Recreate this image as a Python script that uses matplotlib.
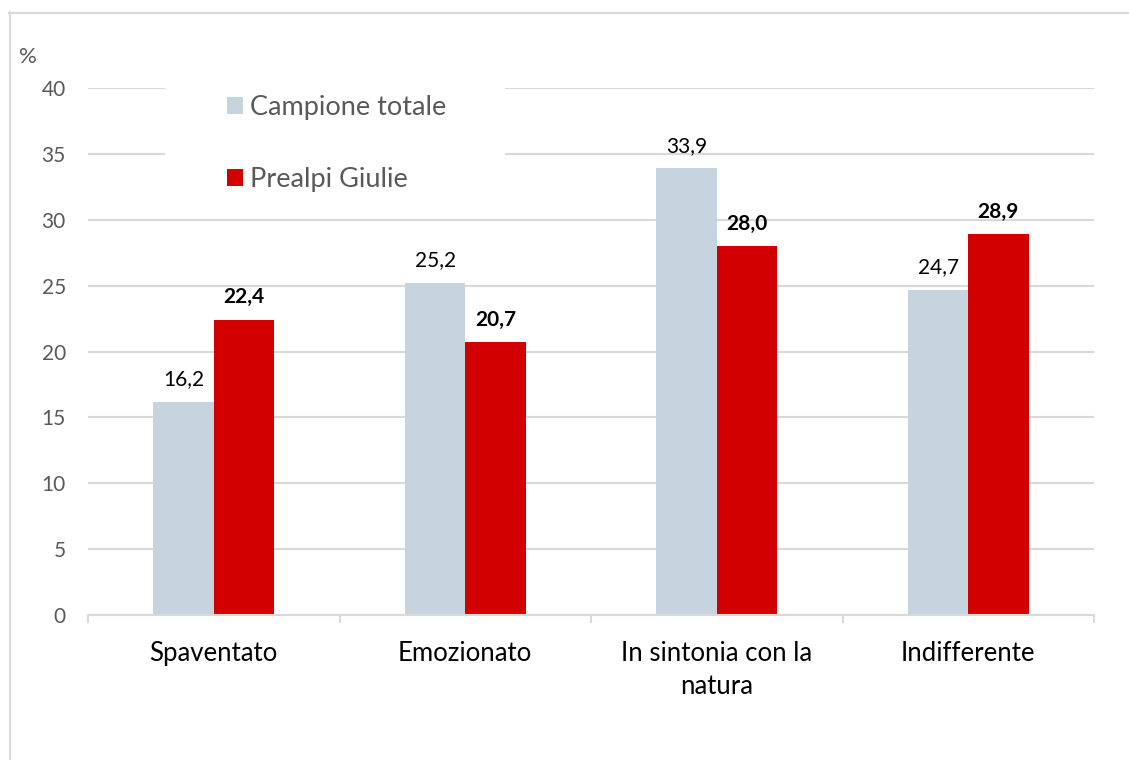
import matplotlib.pyplot as plt
from matplotlib.patches import Rectangle
from matplotlib.lines import Line2D
import numpy as np

# data
categories = ['Spaventato', 'Emozionato', 'In sintonia con la\nnatura', 'Indifferente']
campione = [16.2, 25.2, 33.9, 24.7]
prealpi = [22.4, 20.7, 28.0, 28.9]
series_names = ['Campione totale', 'Prealpi Giulie']

light = '#C5D4DE'
red = '#D20000'
grid_col = '#D9D9D9'
gray_txt = '#595959'

plt.rcParams['font.family'] = ['Lato', 'DejaVu Sans']

W, H = 1129, 760
fig = plt.figure(figsize=(W / 100, H / 100), dpi=100)
ax = fig.add_axes([88 / W, 1 - 615 / H, (1094 - 88) / W, (615 - 88) / H])

x = np.arange(len(categories))
w = 0.24
b1 = ax.bar(x - w / 2, campione, w, color=light, label=series_names[0], zorder=2)
b2 = ax.bar(x + w / 2, prealpi, w, color=red, label=series_names[1], zorder=2)

# value labels, Italian decimal comma
for rect, v in zip(b1, campione):
    ax.annotate(f'{v:.1f}'.replace('.', ','), (rect.get_x() + rect.get_width() / 2, v),
                xytext=(0, 9), textcoords='offset points', ha='center', va='bottom',
                fontsize=15, color='black')
for rect, v in zip(b2, prealpi):
    ax.annotate(f'{v:.1f}'.replace('.', ','), (rect.get_x() + rect.get_width() / 2, v),
                xytext=(0, 9), textcoords='offset points', ha='center', va='bottom',
                fontsize=15, color='black', fontweight='bold')

ax.set_xlim(-0.5, 3.5)
ax.set_ylim(0, 40)
ax.set_yticks(range(0, 41, 5))
ax.yaxis.grid(True, color=grid_col, linewidth=1.5)
ax.set_axisbelow(True)
ax.tick_params(axis='y', length=0, pad=16, labelsize=15, labelcolor=gray_txt)

# ticks between groups, labels at group centres
ax.set_xticks(np.arange(-0.5, 4, 1))
ax.set_xticklabels([])
ax.set_xticks(x, minor=True)
ax.set_xticklabels(categories, minor=True, fontsize=18.5, color='black', linespacing=1.4)
ax.tick_params(axis='x', which='major', length=6, color=grid_col, width=1.5)
ax.tick_params(axis='x', which='minor', length=0, pad=19)

for s in ['top', 'right', 'left']:
    ax.spines[s].set_visible(False)
ax.spines['bottom'].set_color(grid_col)
ax.spines['bottom'].set_linewidth(1.5)

# white box behind the legend, hides gridlines like the original
ax.add_patch(Rectangle((165 / W, 1 - 200 / H), 340 / W, 120 / H, transform=fig.transFigure,
                       facecolor='white', edgecolor='none', zorder=1.5, clip_on=False))
leg = ax.legend(loc='upper left', bbox_to_anchor=(227 / W, 1 - 95 / H),
                bbox_transform=fig.transFigure, frameon=False, fontsize=19.5, borderpad=0,
                borderaxespad=0, handlelength=0.58, handleheight=0.58, handletextpad=0.27,
                labelspacing=1.75)
for t in leg.get_texts():
    t.set_color(gray_txt)

fig.text(19 / W, 1 - 57 / H, '%', fontsize=16, color=gray_txt, va='center', ha='left')

# outer chart border (left and top edges visible)
fig.add_artist(Line2D([9.5 / W, 9.5 / W], [1 - 12 / H, 0], transform=fig.transFigure,
                      color=grid_col, linewidth=1.5))
fig.add_artist(Line2D([9 / W, 1], [1 - 12.5 / H, 1 - 12.5 / H], transform=fig.transFigure,
                      color=grid_col, linewidth=1.5))

fig.savefig('out.png', dpi=100)
